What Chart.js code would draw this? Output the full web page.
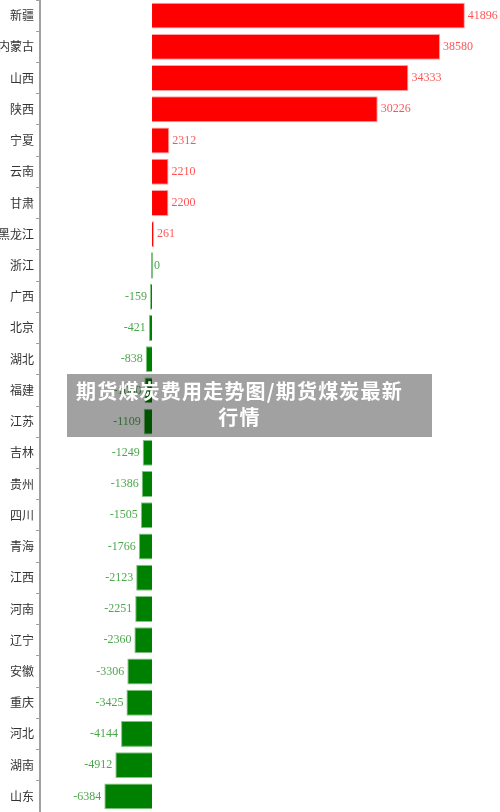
<!DOCTYPE html>
<html>
<head>
<meta charset="utf-8">
<script src="https://cdn.jsdelivr.net/npm/chart.js@4/dist/chart.umd.min.js"></script>
<style>
  html, body { margin: 0; padding: 0; background: #fff; }
  #wrap { position: relative; width: 500px; height: 812px; }
  #overlay {
    position: absolute; left: 67px; top: 374px; width: 365px; height: 63px;
    background: rgba(0,0,0,0.37); color: #fff; text-align: center;
    font: bold 20px "Noto Sans CJK SC", sans-serif; line-height: 26px;
    box-sizing: border-box; padding: 4px 20px 0 0; letter-spacing: 1.2px;
    white-space: nowrap;
  }
</style>
</head>
<body>
<div id="wrap">
  <canvas id="c" width="500" height="812"></canvas>
  <div id="overlay">期货煤炭费用走势图/期货煤炭最新<br>行情</div>
</div>
<script>
const provinces = ['新疆','内蒙古','山西','陕西','宁夏','云南','甘肃','黑龙江','浙江','广西','北京','湖北','福建','江苏','吉林','贵州','四川','青海','江西','河南','辽宁','安徽','重庆','河北','湖南','山东'];
const values = [41896,38580,34333,30226,2312,2210,2200,261,0,-159,-421,-838,-1000,-1109,-1249,-1386,-1505,-1766,-2123,-2251,-2360,-3306,-3425,-4144,-4912,-6384];

const labelPlugin = {
  id: 'valueLabels',
  afterDatasetsDraw(chart) {
    const ctx = chart.ctx;
    const meta = chart.getDatasetMeta(0);
    ctx.save();
    ctx.font = '12px "Liberation Serif", "DejaVu Serif", serif';
    ctx.textBaseline = 'middle';
    meta.data.forEach((el, i) => {
      const v = values[i];
      if (v > 0) {
        ctx.fillStyle = 'rgba(255,0,0,0.68)';
        ctx.textAlign = 'left';
        ctx.fillText(String(v), el.x + 3, el.y);
      } else if (v === 0) {
        ctx.fillStyle = 'rgba(0,128,0,0.7)';
        ctx.textAlign = 'left';
        ctx.fillText(String(v), el.x + 3, el.y);
      } else {
        ctx.fillStyle = 'rgba(0,128,0,0.7)';
        ctx.textAlign = 'right';
        ctx.fillText(String(v), el.x - 3, el.y);
      }
    });
    ctx.restore();
  }
};

new Chart(document.getElementById('c'), {
  type: 'bar',
  data: {
    labels: provinces,
    datasets: [{
      data: values,
      backgroundColor: values.map(v => v > 0 ? '#ff0000' : (v === 0 ? '#80c080' : '#008000')),
      borderColor: values.map(v => v > 0 ? 'rgba(255,150,150,0.9)' : 'rgba(120,190,120,0.9)'),
      borderWidth: values.map(v => v === 0 ? 0 : 1),
      minBarLength: 2,
      barPercentage: 0.83,
      categoryPercentage: 1
    }]
  },
  options: {
    indexAxis: 'y',
    responsive: false,
    animation: false,
    layout: { padding: 0 },
    plugins: { legend: { display: false }, tooltip: { enabled: false } },
    scales: {
      x: { display: false, min: -15000, max: 46600 },
      y: {
        afterFit(scale) { scale.width = 40; scale.paddingTop = 0; scale.paddingBottom = 0; },
        border: { display: true, color: '#a0a0a0', width: 2 },
        grid: { drawOnChartArea: false, tickLength: 4, color: '#a0a0a0', tickWidth: 1 },
        ticks: {
          padding: 2,
          color: '#333',
          font: { family: '"Noto Sans CJK SC", sans-serif', size: 12 }
        }
      }
    }
  },
  plugins: [labelPlugin]
});
</script>
</body>
</html>
